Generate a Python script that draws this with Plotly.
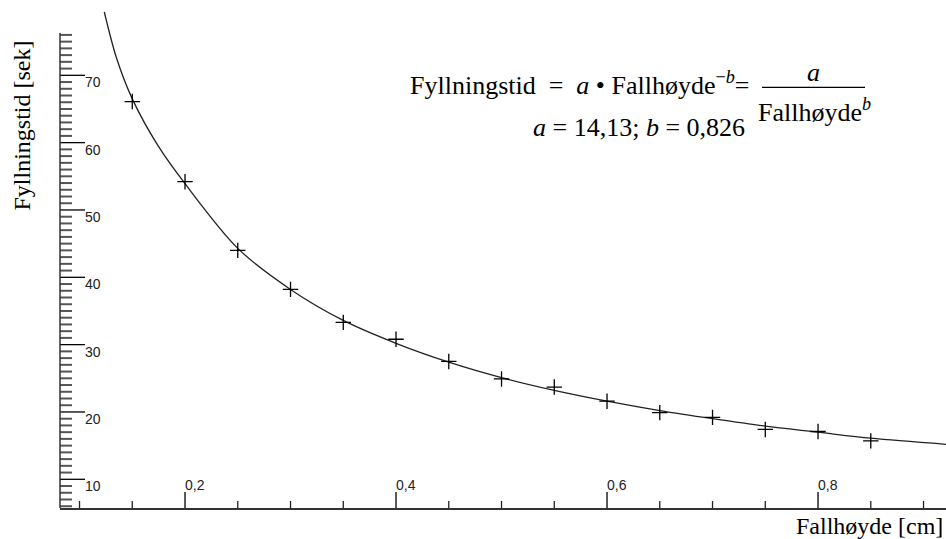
import plotly.graph_objects as go

# ---------------- data ----------------
fallhoyde = [0.15, 0.20, 0.25, 0.30, 0.35, 0.40, 0.45, 0.50, 0.55, 0.60, 0.65, 0.70, 0.75, 0.80, 0.85]
fyllningstid = [66.1, 54.2, 44.0, 38.2, 33.3, 30.8, 27.5, 24.9, 23.7, 21.6, 19.9, 19.2, 17.4, 17.1, 15.7]

curve_x = [0.1235, 0.135, 0.15, 0.175, 0.2, 0.25, 0.3, 0.35, 0.4, 0.45, 0.5, 0.55, 0.6, 0.65, 0.7, 0.75, 0.8, 0.85, 0.9213]
curve_y = [79.4, 72.6, 66.5, 59.4, 53.9, 44.3, 38.2, 33.6, 30.2, 27.4, 25.1, 23.2, 21.6, 20.2, 19.0, 17.9, 17.0, 16.1, 15.2]

x_major = [0.2, 0.4, 0.6, 0.8]
x_major_text = ["0,2", "0,4", "0,6", "0,8"]
x_minor = [0.1, 0.15, 0.25, 0.3, 0.35, 0.45, 0.5, 0.55, 0.65, 0.7, 0.75, 0.85, 0.9]
y_major = [10, 20, 30, 40, 50, 60, 70]
y_major_text = ["10", "20", "30", "40", "50", "60", "70"]
y_minor = [v for v in range(6, 77) if v % 10 != 0]

x_range = [0.0815, 0.9213]
y_range = [5.737, 79.70]
y_axis_top = 76.3

# ---------------- layout helpers ----------------
W, H = 946, 539
ML, MR, MT, MB = 60, 0, 10, 31
PW, PH = W - ML - MR, H - MT - MB


def px(xp):
    return (xp - ML) / PW


def py(yp):
    return (H - MB - yp) / PH


serif = "Liberation Serif, Times New Roman, serif"
narrow = "Liberation Sans Narrow, Arial Narrow, Liberation Sans, Arial, sans-serif"
TICKFONT = dict(family=narrow, size=14, color="#222222")

fig = go.Figure()

fig.add_trace(go.Scatter(
    x=curve_x, y=curve_y, mode="lines",
    line=dict(color="#222222", width=1.3, shape="spline", smoothing=0.9),
    hoverinfo="skip", showlegend=False,
))
fig.add_trace(go.Scatter(
    x=fallhoyde, y=fyllningstid, mode="markers",
    marker=dict(symbol="cross-thin", size=11, line=dict(color="black", width=1.3)),
    showlegend=False,
))

fig.update_layout(
    width=W, height=H,
    margin=dict(l=ML, r=MR, t=MT, b=MB),
    paper_bgcolor="white", plot_bgcolor="white",
    separators=", ",
    xaxis=dict(
        range=x_range, showgrid=False, zeroline=False,
        showline=True, linecolor="#333333", linewidth=1.5,
        showticklabels=False, ticks="",
    ),
    yaxis=dict(
        range=y_range, showgrid=False, zeroline=False, showline=False,
        showticklabels=False, ticks="",
    ),
)

# ---- tick marks, placed on the axes' own scales ----
def xtick(v, length, width, color):
    fig.add_shape(type="line", xref="x", x0=v, x1=v,
                  yref="y", ysizemode="pixel", yanchor=y_range[0], y0=0, y1=length,
                  line=dict(color=color, width=width), layer="above")


def ytick(v, length, width, color):
    fig.add_shape(type="line", yref="y", y0=v, y1=v,
                  xref="x", xsizemode="pixel", xanchor=x_range[0], x0=0, x1=length,
                  line=dict(color=color, width=width), layer="above")


for v in x_minor:
    xtick(v, 7, 1.3, "#222222")
for v in x_major:
    xtick(v, 16, 1.3, "black")
for v in y_minor:
    ytick(v, 12, 2, "#555555")
for v in y_major:
    ytick(v, 25, 1.3, "black")

# ---- tick labels (inside the frame, beside the ticks) ----
for v, t in zip(x_major, x_major_text):
    fig.add_annotation(text=t, x=v, xref="x", y=0, yref="paper",
                       xanchor="left", yanchor="bottom", xshift=-2, yshift=13,
                       showarrow=False, font=TICKFONT)
for v, t in zip(y_major, y_major_text):
    fig.add_annotation(text=t, y=v, yref="y", x=0, xref="paper",
                       xanchor="left", yanchor="middle", xshift=23, yshift=-7,
                       showarrow=False, font=TICKFONT)

# y-axis line (stops below the top of the frame, as in the reference)
fig.add_shape(type="line", xref="paper", yref="y", x0=0, x1=0,
              y0=y_range[0], y1=y_axis_top, line=dict(color="#333333", width=1.5))

# axis titles
fig.add_annotation(text="Fyllningstid [sek]", xref="paper", yref="paper",
                   x=px(21), y=py(125.5), xanchor="center", yanchor="middle",
                   textangle=-90, showarrow=False,
                   font=dict(family=serif, size=24, color="black"))
fig.add_annotation(text="Fallhøyde [cm]", xref="paper", yref="paper",
                   x=px(945), y=py(526), xanchor="right", yanchor="middle",
                   showarrow=False, font=dict(family=serif, size=24, color="black"))

# equation
nb = "\u00a0"
EQ = dict(family=serif, size=26, color="black")
fig.add_annotation(
    text=f"Fyllningstid{nb}{nb}={nb}{nb}<i>a</i>{nb}•{nb}Fallhøyde<sup>−<i>b</i></sup>=",
    xref="paper", yref="paper", x=px(408), y=py(84), xanchor="left", yanchor="middle",
    showarrow=False, font=EQ)
fig.add_annotation(text="<i>a</i>", xref="paper", yref="paper",
                   x=px(813), y=py(72), xanchor="center", yanchor="middle",
                   showarrow=False, font=EQ)
fig.add_shape(type="line", xref="paper", yref="paper",
              x0=px(762), x1=px(865), y0=py(87.3), y1=py(87.3),
              line=dict(color="black", width=1.3))
fig.add_annotation(text="Fallhøyde<sup><i>b</i></sup>", xref="paper", yref="paper",
                   x=px(756), y=py(110), xanchor="left", yanchor="middle",
                   showarrow=False, font=EQ)
fig.add_annotation(text=f"<i>a</i>{nb}={nb}14,13;{nb}<i>b</i>{nb}={nb}0,826",
                   xref="paper", yref="paper",
                   x=px(531), y=py(127), xanchor="left", yanchor="middle",
                   showarrow=False, font=EQ)

fig.write_html("out.html")
